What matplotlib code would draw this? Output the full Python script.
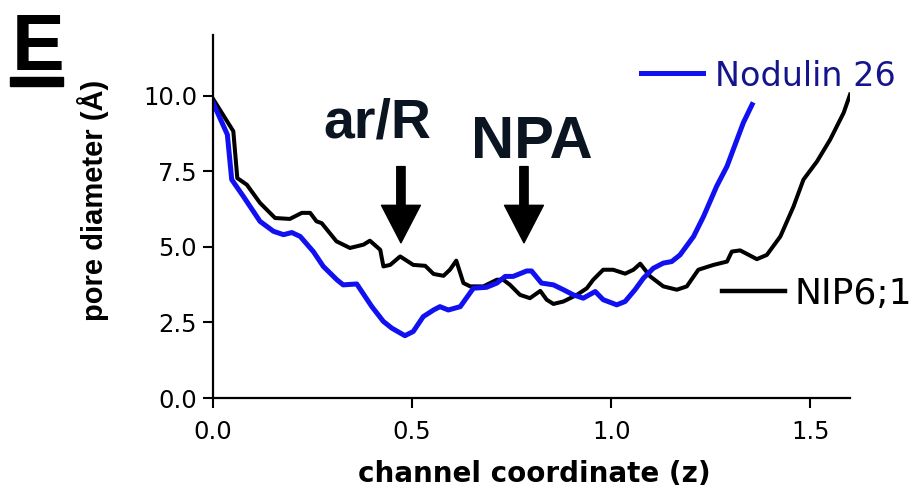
import matplotlib
matplotlib.use('Agg')
import matplotlib.pyplot as plt
from matplotlib.patches import Rectangle
from matplotlib.lines import Line2D

# Pore diameter profiles along the channel
nip_z = [0.0, 0.051, 0.061, 0.085, 0.118, 0.156, 0.193, 0.223, 0.244, 0.26,
         0.273, 0.31, 0.344, 0.378, 0.394, 0.42, 0.428, 0.445, 0.47, 0.503,
         0.533, 0.554, 0.579, 0.595, 0.611, 0.629, 0.646, 0.679, 0.713, 0.729,
         0.746, 0.771, 0.796, 0.822, 0.838, 0.855, 0.880, 0.914, 0.939, 0.955,
         0.980, 1.005, 1.035, 1.056, 1.073, 1.098, 1.131, 1.165, 1.190, 1.219,
         1.257, 1.291, 1.303, 1.324, 1.366, 1.391, 1.425, 1.458, 1.483, 1.517,
         1.550, 1.584, 1.600]
nip_d = [9.89, 8.82, 7.27, 7.05, 6.45, 5.95, 5.92, 6.12, 6.12, 5.84,
         5.78, 5.18, 4.96, 5.07, 5.2, 4.9, 4.35, 4.40, 4.68, 4.40,
         4.37, 4.10, 4.04, 4.24, 4.54, 3.80, 3.69, 3.69, 3.91, 3.91,
         3.74, 3.41, 3.30, 3.54, 3.25, 3.11, 3.19, 3.41, 3.63, 3.91,
         4.24, 4.24, 4.11, 4.24, 4.44, 4.02, 3.69, 3.58, 3.69, 4.24,
         4.40, 4.51, 4.84, 4.88, 4.59, 4.73, 5.34, 6.33, 7.22, 7.82,
         8.54, 9.43, 10.03]

nod_z = [0.0, 0.036, 0.047, 0.076, 0.118, 0.152, 0.177, 0.198, 0.219, 0.252,
         0.277, 0.311, 0.327, 0.361, 0.399, 0.428, 0.449, 0.482, 0.503, 0.528,
         0.554, 0.570, 0.591, 0.621, 0.654, 0.687, 0.713, 0.734, 0.754, 0.788,
         0.800, 0.825, 0.855, 0.880, 0.905, 0.930, 0.960, 0.980, 1.014, 1.035,
         1.060, 1.081, 1.106, 1.131, 1.152, 1.173, 1.207, 1.232, 1.265, 1.291,
         1.316, 1.332, 1.354]
nod_d = [9.76, 8.71, 7.22, 6.67, 5.84, 5.51, 5.40, 5.47, 5.34, 4.84,
         4.35, 3.91, 3.74, 3.77, 3.02, 2.53, 2.31, 2.06, 2.20, 2.69,
         2.91, 3.02, 2.91, 3.02, 3.63, 3.66, 3.80, 4.02, 4.02, 4.20,
         4.20, 3.80, 3.74, 3.58, 3.41, 3.30, 3.52, 3.25, 3.08, 3.19,
         3.58, 3.96, 4.29, 4.46, 4.51, 4.73, 5.34, 6.00, 7.00, 7.66,
         8.54, 9.10, 9.70]

x_ticks = [0.0, 0.5, 1.0, 1.5]
y_ticks = [0.0, 2.5, 5.0, 7.5, 10.0]

# arrow positions (z) for the two constrictions
motif_names = ['ar/R', 'NPA']
motif_z = [0.472, 0.781]

fig = plt.figure(figsize=(9.15, 4.91), dpi=100)
ax = fig.add_axes([0.2328, 0.1894, 0.6962, 0.7393])

ax.plot(nip_z, nip_d, color='black', lw=2.9, solid_joinstyle='round')
ax.plot(nod_z, nod_d, color='#1010f0', lw=3.6, solid_joinstyle='round')

ax.set_xlim(0, 1.6)
ax.set_ylim(0, 12)
ax.set_xticks(x_ticks)
ax.set_yticks(y_ticks)
ax.set_xticklabels(['%.1f' % v for v in x_ticks])
ax.set_yticklabels(['%.1f' % v for v in y_ticks])
for s in ['top', 'right']:
    ax.spines[s].set_visible(False)
for s in ['left', 'bottom']:
    ax.spines[s].set_linewidth(1.6)
ax.tick_params(direction='out', length=7.5, width=1.5, labelsize=17.5,
               colors='black')
ax.tick_params(axis='x', pad=8)
ax.tick_params(axis='y', pad=4)

ax.set_xlabel('channel coordinate (z)', fontsize=20, fontweight='bold',
              family='DejaVu Sans')
ax.set_ylabel('pore diameter (Å)', fontsize=21, fontweight='bold',
              family='Liberation Sans')
ax.yaxis.set_label_coords(-0.163, 0.545)
ax.xaxis.set_label_coords(0.505, -0.172)

# motif labels and arrows
txt_col = '#0b1521'
ax.text(0.412, 8.61, motif_names[0], fontsize=40, fontweight='bold',
        family='Liberation Sans', color=txt_col, ha='center', va='baseline')
ax.text(0.801, 7.95, motif_names[1], fontsize=43, fontweight='bold',
        family='Liberation Sans', color=txt_col, ha='center', va='baseline')
for z in motif_z:
    ax.annotate('', xy=(z, 5.13), xytext=(z, 7.65),
                arrowprops=dict(arrowstyle='simple,head_width=2.8,head_length=2.7,tail_width=0.6',
                                mutation_scale=10, fc='black', ec='black',
                                shrinkA=0, shrinkB=0))

# hand-placed legend entries
ax.add_line(Line2D([1.076, 1.231], [10.73, 10.73], color='#1010f0', lw=3.6,
                   clip_on=False))
ax.text(1.261, 10.31, 'Nodulin 26', fontsize=24, color='#14148c',
        family='DejaVu Sans', va='baseline', clip_on=False)
ax.add_line(Line2D([1.278, 1.437], [3.55, 3.55], color='black', lw=3.2,
                   clip_on=False))
ax.text(1.46, 3.10, 'NIP6;1', fontsize=26, color='black',
        family='DejaVu Sans', va='baseline', clip_on=False)

# panel letter
fig.text(12 / 915, 1 - 70 / 491, 'E', fontsize=57, fontweight='bold',
         family='Liberation Sans', va='baseline')
fig.add_artist(Rectangle((10 / 915, 1 - 86 / 491), 53 / 915, 9 / 491,
                         transform=fig.transFigure, color='black'))

fig.savefig('out.png', dpi=100)
